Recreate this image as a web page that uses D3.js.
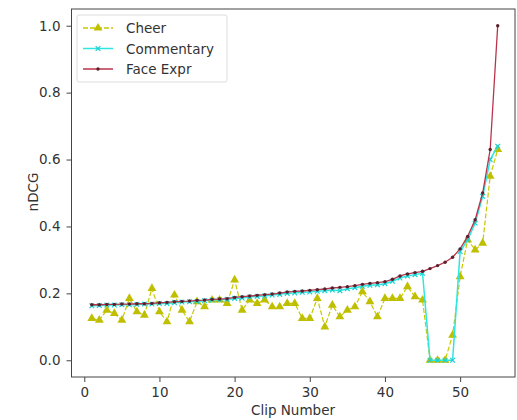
<!DOCTYPE html>
<html>
<head>
<meta charset="utf-8">
<script src="https://cdn.jsdelivr.net/npm/d3@7"></script>
<style>
  body { margin: 0; background: #fff; }
  text { font-family: "DejaVu Sans", sans-serif; fill: #333; }
</style>
</head>
<body>
<div id="chart"></div>
<script>
// clip numbers 1..55
var clips = d3.range(1, 56);

var cheer = [0.125, 0.12, 0.15, 0.14, 0.12, 0.185, 0.145, 0.135, 0.215, 0.145,
  0.115, 0.195, 0.15, 0.115, 0.175, 0.16, 0.18, 0.18, 0.17, 0.24,
  0.15, 0.18, 0.17, 0.18, 0.16, 0.16, 0.17, 0.17, 0.125, 0.125,
  0.185, 0.10, 0.165, 0.13, 0.15, 0.16, 0.205, 0.175, 0.13, 0.185,
  0.185, 0.185, 0.22, 0.19, 0.18, 0.0, 0.0, 0.0, 0.075, 0.25,
  0.36, 0.33, 0.35, 0.55, 0.63];

var commentary = [0.163, 0.164, 0.165, 0.165, 0.166, 0.166, 0.167, 0.168, 0.168, 0.170,
  0.170, 0.172, 0.174, 0.175, 0.176, 0.178, 0.180, 0.181, 0.182, 0.185,
  0.186, 0.189, 0.191, 0.192, 0.195, 0.197, 0.200, 0.201, 0.203, 0.204,
  0.206, 0.208, 0.210, 0.208, 0.214, 0.217, 0.221, 0.224, 0.226, 0.229,
  0.236, 0.246, 0.252, 0.256, 0.260, 0.0, 0.0, 0.0, 0.0, 0.325,
  0.36, 0.41, 0.49, 0.60, 0.64];

var faceExpr = [0.166, 0.166, 0.167, 0.167, 0.168, 0.168, 0.169, 0.169, 0.170, 0.172,
  0.173, 0.175, 0.176, 0.177, 0.179, 0.180, 0.182, 0.183, 0.184, 0.188,
  0.190, 0.192, 0.194, 0.196, 0.198, 0.201, 0.204, 0.206, 0.207, 0.209,
  0.211, 0.213, 0.216, 0.218, 0.220, 0.223, 0.227, 0.230, 0.232, 0.235,
  0.242, 0.252, 0.258, 0.262, 0.266, 0.274, 0.283, 0.293, 0.308, 0.333,
  0.37, 0.42, 0.50, 0.63, 1.0];

var xTicks = [0, 10, 20, 30, 40, 50];
var yTicks = [0.0, 0.2, 0.4, 0.6, 0.8, 1.0];

var svgWidth = 517;
var svgHeight = 420;
var margin = { top: 9, left: 71.5, bottom: 377, right: 515 };
var fontSize = 13.5;

var svg = d3.select("#chart")
  .append("svg")
  .attr("width", svgWidth)
  .attr("height", svgHeight);

// scales
var xScale = d3.scaleLinear()
  .domain([-1.7, 57.7])
  .range([margin.left, 518]);

var yScale = d3.scaleLinear()
  .domain([-0.05, 1.05])
  .range([margin.bottom, margin.top]);

// axes
var bottomAxis = d3.axisBottom(xScale).tickValues(xTicks).tickSize(5).tickPadding(5);
var leftAxis = d3.axisLeft(yScale).tickValues(yTicks).tickSize(5).tickPadding(6)
  .tickFormat(d3.format(".1f"));

var gx = svg.append("g")
  .attr("transform", `translate(0, ${margin.bottom})`)
  .call(bottomAxis);
var gy = svg.append("g")
  .attr("transform", `translate(${margin.left}, 0)`)
  .call(leftAxis);

[gx, gy].forEach(function (g) {
  g.select(".domain").remove();
  g.selectAll("line").attr("stroke", "#444").attr("stroke-width", 1);
  g.selectAll("text").attr("font-size", fontSize).attr("fill", "#333")
    .style("font-family", "DejaVu Sans, sans-serif");
});

// frame
svg.append("rect")
  .attr("x", margin.left)
  .attr("y", margin.top)
  .attr("width", margin.right - margin.left)
  .attr("height", margin.bottom - margin.top)
  .attr("fill", "none")
  .attr("stroke", "#444")
  .attr("stroke-width", 1);

var plot = svg.append("g");

var line = d3.line()
  .x(function (d, i) { return xScale(clips[i]); })
  .y(function (d) { return yScale(d); });

// Cheer
plot.append("path")
  .datum(cheer)
  .attr("d", line)
  .attr("fill", "none")
  .attr("stroke", "#c8c800")
  .attr("stroke-width", 1.2)
  .attr("stroke-dasharray", "5,2");

var tri = d3.symbol().type(d3.symbolTriangle).size(34);
plot.selectAll(".cheer")
  .data(cheer)
  .enter()
  .append("path")
  .attr("transform", (d, i) => `translate(${xScale(clips[i])}, ${yScale(d)})`)
  .attr("d", tri)
  .attr("fill", "#bfbf00");

// Commentary
plot.append("path")
  .datum(commentary)
  .attr("d", line)
  .attr("fill", "none")
  .attr("stroke", "#2ee6e0")
  .attr("stroke-width", 1.5);

var cross = d3.symbol().type(d3.symbolTimes).size(16);
plot.selectAll(".comm")
  .data(commentary)
  .enter()
  .append("path")
  .attr("transform", (d, i) => `translate(${xScale(clips[i])}, ${yScale(d)})`)
  .attr("d", cross)
  .attr("stroke", "#1ccfd0")
  .attr("stroke-width", 1.2)
  .attr("fill", "none");

// Face Expr
plot.append("path")
  .datum(faceExpr)
  .attr("d", line)
  .attr("fill", "none")
  .attr("stroke", "#b8344a")
  .attr("stroke-width", 1.3);

plot.selectAll(".face")
  .data(faceExpr)
  .enter()
  .append("circle")
  .attr("cx", (d, i) => xScale(clips[i]))
  .attr("cy", d => yScale(d))
  .attr("r", 1.7)
  .attr("fill", "#5a1f2c");

// axis labels
svg.append("text")
  .attr("x", 293)
  .attr("y", 415)
  .attr("text-anchor", "middle")
  .attr("font-size", fontSize)
  .attr("fill", "#333")
  .text("Clip Number");

svg.append("text")
  .attr("transform", "translate(38, 192) rotate(-90)")
  .attr("text-anchor", "middle")
  .attr("font-size", fontSize)
  .attr("fill", "#333")
  .text("nDCG");

// legend
var legend = svg.append("g");
legend.append("rect")
  .attr("x", 77)
  .attr("y", 15)
  .attr("width", 150)
  .attr("height", 67)
  .attr("rx", 2)
  .attr("fill", "#fff")
  .attr("fill-opacity", 0.8)
  .attr("stroke", "#ddd")
  .attr("stroke-width", 1);

var legendItems = [
  { name: "Cheer", color: "#c8c800", dash: "5,2" },
  { name: "Commentary", color: "#2ee6e0", dash: null },
  { name: "Face Expr", color: "#b8344a", dash: null }
];

legendItems.forEach(function (item, i) {
  var y = 28 + i * 20.5;
  legend.append("line")
    .attr("x1", 83).attr("x2", 113)
    .attr("y1", y).attr("y2", y)
    .attr("stroke", item.color)
    .attr("stroke-width", 1.5)
    .attr("stroke-dasharray", item.dash);
  if (i === 0) {
    legend.append("path").attr("transform", `translate(98, ${y})`).attr("d", tri).attr("fill", "#bfbf00");
  } else if (i === 1) {
    legend.append("path").attr("transform", `translate(98, ${y})`).attr("d", cross)
      .attr("stroke", "#1ccfd0").attr("stroke-width", 1.2).attr("fill", "none");
  } else {
    legend.append("circle").attr("cx", 98).attr("cy", y).attr("r", 1.7).attr("fill", "#5a1f2c");
  }
  legend.append("text")
    .attr("x", 126)
    .attr("y", y + 5)
    .attr("font-size", fontSize)
    .attr("fill", "#333")
    .text(item.name);
});
</script>
</body>
</html>
